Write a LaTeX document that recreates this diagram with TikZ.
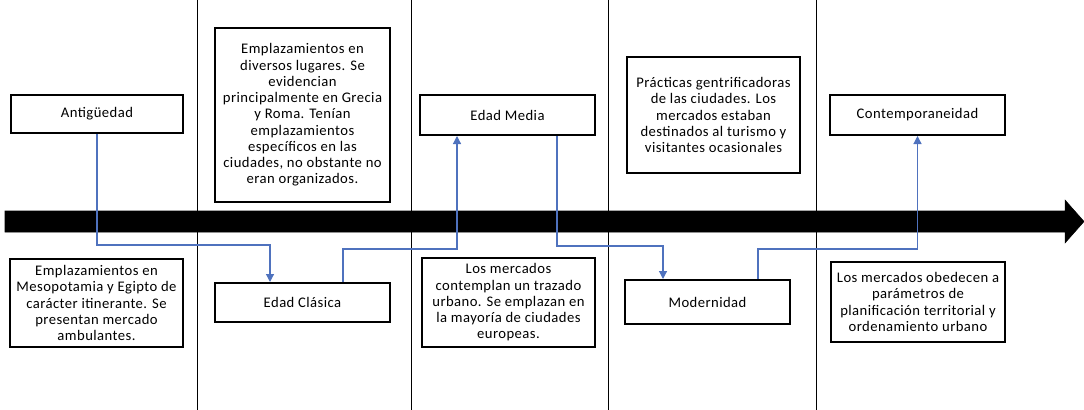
\documentclass[tikz,border=0pt]{standalone}
\usepackage{fontspec}
\setmainfont{Carlito}[LetterSpace=3]
\usepackage{tikz}
\usetikzlibrary{calc,arrows.meta}
\definecolor{linkblue}{RGB}{79,114,190}
\tikzset{
    period/.style={draw=black,line width=1.5pt,rectangle,align=center,inner sep=0pt},
    note/.style={period},
    divider/.style={black,line width=0.7pt},
    timeline/.style={fill=black,draw=black},
    link/.style={linkblue,line width=0.9pt,-{Triangle[width=6pt,length=6pt]}}
}
\begin{document}
\begin{tikzpicture}[x=0.75pt,y=-0.75pt,font=\fontsize{11}{12.2}\selectfont]
\useasboundingbox (0,0) rectangle (1084,410);
\foreach \x in {197,411,608,816} \draw[divider](\x,0)--(\x,410);
\fill[timeline](5,211)--(1065,211)--(1065,200)--(1084,221.5)--(1065,243)--(1065,232)--(5,232)--cycle;
\node[period,minimum width=129pt,minimum height=28.5pt](ant)at(97,114){Antigüedad};
\node[period,minimum width=131.25pt,minimum height=29.25pt](clas)at(302.5,302.5){Edad Clásica};
\node[period,minimum width=131.25pt,minimum height=30pt](media)at(507.5,115){Edad Media};
\node[period,minimum width=123.75pt,minimum height=33pt](mod)at(707.5,302){Modernidad};
\node[period,minimum width=131.25pt,minimum height=30pt](cont)at(917.5,115){Contemporaneidad};
\node[note,line width=1.8pt,minimum width=131.25pt,minimum height=130.5pt](lugares)at(302.5,115){Emplazamientos en\\diversos lugares. Se\\evidencian\\principalmente en Grecia\\y Roma. Tenían\\emplazamientos\\específicos en las\\ciudades, no obstante no\\eran organizados.};
\node[note,minimum width=129.75pt,minimum height=87pt](turismo)at(713.5,115){Prácticas gentrificadoras\\de las ciudades. Los\\mercados estaban\\destinados al turismo y\\visitantes ocasionales};
\node[note,minimum width=129.75pt,minimum height=66pt](itinerante)at(96.5,303){Emplazamientos en\\Mesopotamia y Egipto de\\carácter itinerante. Se\\presentan mercado\\ambulantes.};
\node[note,minimum width=129.75pt,minimum height=66.75pt](trazado)at(508.5,302.5){Los mercados\\contemplan un trazado\\urbano. Se emplazan en\\la mayoría de ciudades\\europeas.};
\node[note,minimum width=130.5pt,minimum height=60pt](planificacion)at(918,302){Los mercados obedecen a\\parámetros de\\planificación territorial y\\ordenamiento urbano};
\draw[link](ant.south)--++(0,111)-|($(clas.north)+(-32.5,0)$);
\draw[link]($(clas.north)+(40.5,0)$)--++(0,-33)-|($(media.south)+(-50.5,0)$);
\draw[link]($(media.south)+(49.5,0)$)--++(0,110)-|($(mod.north)+(-44.5,0)$);
\draw[link]($(mod.north)+(50.5,0)$)--++(0,-30)-|(cont.south);
\end{tikzpicture}
\end{document}
